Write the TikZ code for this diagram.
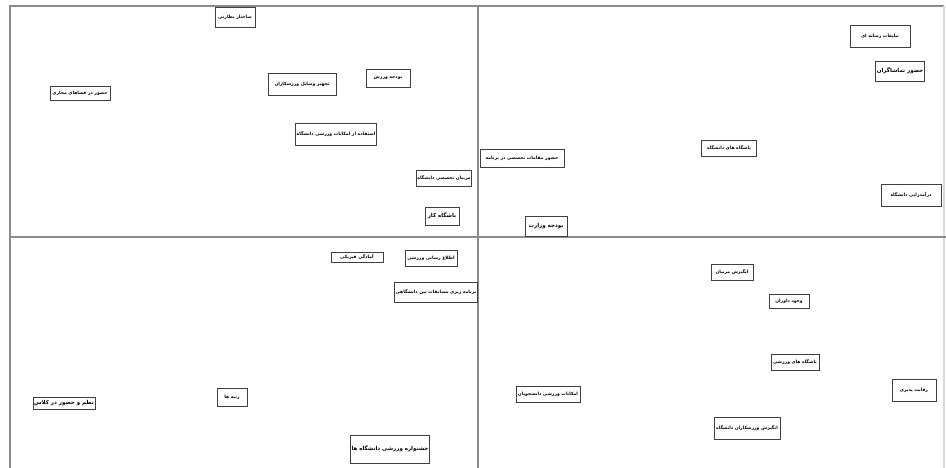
\documentclass[tikz,border=0pt]{standalone}
\usepackage{fontspec}
\usepackage{tikz}
\TeXXeTstate=1
\newfontfamily\farsi[Script=Arabic]{DejaVu Sans}
\newcommand{\fatext}[1]{{\farsi\bfseries\beginR #1\endR}}
\tikzset{
    every node/.style={rectangle, draw=black!75, line width=0.6pt, inner sep=1pt,
    	font=\fontsize{4.5}{5.5}\selectfont}
}
\tikzset{
    big/.style={font=\fontsize{5.5}{6.5}\selectfont, line width=0.8pt}
}
\tikzset{
	axis/.style={draw=black!45, line width=1.2pt}
}

\begin{document}
\begin{tikzpicture}
	\useasboundingbox (0pt,0pt) rectangle (946pt,-468pt);
	\coordinate (tl) at (10pt,-6pt);
	\coordinate (tr) at (944pt,-6pt);
	\coordinate (bl) at (10pt,-468pt);
	\coordinate (br) at (944pt,-468pt);
	\coordinate (ml) at (10pt,-237pt);
	\coordinate (mr) at (946pt,-237pt);
	\coordinate (mt) at (478pt,-6pt);
	\coordinate (mb) at (478pt,-468pt);
	\draw [axis] (bl) -- (tl) -- (tr);
	\draw [axis, draw=black!15] (tr) -- (br);
	\draw [axis] (ml) -- (mr); \draw [axis] (mt) -- (mb);
	% top left
	\node [minimum width=40pt, minimum height=20pt] (a) at (235pt,-17pt) {\fatext{ساختار نظارتی}};
	\node [minimum width=60pt, minimum height=14pt] (b) at (80pt,-93pt) {\fatext{حضور در فضاهای مجازی}};
	\node [minimum width=68pt, minimum height=22pt] (c) at (302pt,-84pt) {\fatext{تجهیز وسایل ورزشکاران}};
	\node [minimum width=44pt, minimum height=18pt] (d) at (388pt,-78pt) {\fatext{بودجه ورزش}};
	\node [minimum width=80pt, minimum height=22pt] (e) at (336pt,-134pt) {\fatext{استفاده از امکانات ورزشی دانشگاه}};
	\node [minimum width=50pt, minimum height=16pt] (f) at (444pt,-178pt) {\fatext{مربیان تخصصی دانشگاه}};
	\node [big, minimum width=34pt, minimum height=18pt] (g) at (442pt,-216pt) {\fatext{باشگاه کار}};
	% top right
	\node [minimum width=84pt, minimum height=18pt] (h) at (522pt,-158pt) {\fatext{حضور مقامات تخصصی در برنامه}};
	\node [minimum width=55pt, minimum height=16pt] (i) at (729pt,-148pt) {\fatext{باشگاه های دانشگاه}};
	\node [minimum width=60pt, minimum height=22pt] (j) at (880pt,-36pt) {\fatext{تبلیغات رسانه ای}};
	\node [big, minimum width=46pt, minimum height=20pt] (k) at (900pt,-71pt) {\fatext{حضور تماشاگران}};
	\node [minimum width=60pt, minimum height=22pt] (l) at (911pt,-195pt) {\fatext{درآمدزایی دانشگاه}};
	\node [big, minimum width=42pt, minimum height=20pt] (m) at (546pt,-226pt) {\fatext{بودجه وزارت}};
	% bottom left
	\node [minimum width=52pt, minimum height=10pt] (n) at (357pt,-257pt) {\fatext{آمادگی فیزیکی}};
	\node [minimum width=52pt, minimum height=16pt] (o) at (431pt,-258pt) {\fatext{اطلاع رسانی ورزشی}};
	\node [minimum width=80pt, minimum height=20pt] (p) at (436pt,-292pt) {\fatext{برنامه ریزی مسابقات بین دانشگاهی}};
	\node [big, minimum width=62pt, minimum height=12pt] (q) at (64pt,-403pt) {\fatext{نظم و حضور در کلاس}};
	\node [minimum width=30pt, minimum height=18pt] (r) at (232pt,-397pt) {\fatext{رتبه ها}};
	\node [big, minimum width=72pt, minimum height=28pt] (s) at (390pt,-449pt) {\fatext{جشنواره ورزشی دانشگاه ها}};
	% bottom right
	\node [minimum width=42pt, minimum height=16pt] (t) at (732pt,-272pt) {\fatext{انگیزش مربیان}};
	\node [minimum width=40pt, minimum height=14pt] (u) at (789pt,-301pt) {\fatext{وجود داوران}};
	\node [minimum width=48pt, minimum height=16pt] (v) at (795pt,-362pt) {\fatext{باشگاه های ورزشی}};
	\node [minimum width=64pt, minimum height=16pt] (w) at (548pt,-394pt) {\fatext{امکانات ورزشی دانشجویان}};
	\node [minimum width=44pt, minimum height=22pt] (x) at (914pt,-390pt) {\fatext{رقابت پذیری}};
	\node [minimum width=66pt, minimum height=22pt] (y) at (747pt,-428pt) {\fatext{انگیزش ورزشکاران دانشگاه}};
\end{tikzpicture}
\end{document}
